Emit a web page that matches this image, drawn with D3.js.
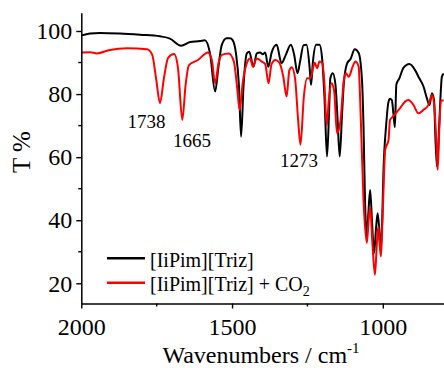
<!DOCTYPE html>
<html>
<head>
<meta charset="utf-8">
<script src="https://cdn.jsdelivr.net/npm/d3@7"></script>
<style>
  html, body { margin: 0; padding: 0; background: #fff; }
  svg { display: block; font-family: "Liberation Serif", "Times New Roman", serif; }
</style>
</head>
<body>
<svg id="chart" width="444" height="368"></svg>
<script>
// ---- data ----
var blackWn = [2000, 1971, 1938, 1872, 1805, 1739, 1706, 1669, 1639, 1606, 1590, 1573, 1556, 1545, 1534,
  1518, 1507, 1498, 1487, 1477, 1470, 1462, 1451, 1443, 1429, 1418, 1407, 1398, 1390, 1380, 1368, 1352,
  1336, 1321, 1305, 1294, 1283, 1274, 1263, 1253, 1243, 1238, 1232, 1221, 1210, 1201, 1193, 1185, 1178,
  1174, 1166, 1157, 1150, 1143, 1135, 1129, 1118, 1107, 1093, 1080, 1069, 1064, 1059, 1053, 1048, 1042,
  1036, 1029, 1022, 1017, 1011, 1007, 1002, 998, 989, 981, 976, 970, 965, 960, 955, 945, 932, 912, 893,
  879, 865, 854, 845, 837, 830, 825, 820, 813, 804, 798];
var blackT = [98.6, 99.2, 99.4, 99.2, 98.8, 98.3, 97.6, 95.3, 96.5, 96.8, 97.1, 92.9, 80.8, 88.7, 95.6,
  97.7, 97.7, 97.1, 92.9, 82.4, 66.5, 82.4, 92.9, 93.4, 88.7, 92.9, 93.2, 92.6, 93.2, 88.7, 93.4, 95.6,
  89.8, 92.6, 95.6, 92.5, 86.6, 90.5, 95.5, 95.6, 88.7, 82.9, 90, 95.6, 95.6, 91, 78, 60.2, 75,
  85, 86.6, 83, 72, 60.2, 74, 83.7, 89.8, 91.1, 94.2, 93, 84.4, 70, 46.4, 34.8, 42, 49.6,
  40, 29.6, 38, 42.2, 36, 30, 40, 54.9, 70, 77.6, 78.5, 78.1, 74, 69.5, 83, 85, 88.2, 89.5, 87.6,
  85, 82.4, 78.7, 76.5, 80.3, 78, 65, 57, 70, 85.5, 86.5];

var redWn = [2000, 1971, 1948, 1905, 1848, 1782, 1765, 1752, 1739, 1726, 1712, 1692, 1679, 1665, 1654,
  1643, 1613, 1580, 1567, 1556, 1545, 1534, 1511, 1494, 1483, 1475, 1464, 1451, 1440, 1431, 1418, 1401,
  1390, 1379, 1369, 1357, 1343, 1330, 1319, 1310, 1302, 1291, 1281, 1273, 1262, 1251, 1240, 1226, 1218,
  1210, 1201, 1194, 1186, 1179, 1170, 1161, 1152, 1141, 1129, 1122, 1113, 1100, 1091, 1080, 1075, 1064,
  1053, 1047, 1042, 1034, 1026, 1020, 1015, 1010, 1006, 1001, 992, 981, 976, 965, 953, 943, 926, 915,
  898, 882, 865, 849, 837, 830, 821, 818, 813, 807, 798];
var redT = [93.2, 93.3, 92.9, 94, 94.5, 94.2, 92.5, 85, 77.1, 85, 91.5, 92.7, 88, 71.8, 83,
  89.2, 90.8, 93.2, 90.8, 83.4, 89.8, 92.4, 92.9, 90.3, 82, 75, 84, 89.8, 91.3, 88.7, 91.3, 90.3,
  89.5, 83.4, 89.5, 90.8, 90, 85.5, 79.2, 87.5, 88.5, 85, 72, 63.9, 79, 85, 85, 89.9, 88.2,
  90.3, 89.9, 84, 70, 78.1, 83.4, 80.7, 67.6, 71, 84.5, 86.6, 85.5, 88.7, 90.3, 88.7, 78, 46.4,
  32.8, 40, 44.3, 32, 22.7, 32, 38, 32, 28.5, 40, 62.3, 65.5, 71.8, 73, 74.4, 75.5, 77.6, 78.1,
  76.5, 73.9, 75, 76.5, 79.7, 77, 62, 56, 68, 78, 78];

var seriesNames = ["[IiPim][Triz]", "[IiPim][Triz] + CO"];
var seriesColors = ["#000000", "#ff0000"];

var xTicksMajor = [2000, 1500, 1000];
var xTicksMinor = [1750, 1250];
var yTicksMajor = [20, 40, 60, 80, 100];
var yTicksMinor = [30, 50, 70, 90];

// peak annotations: text, and the (wavenumber, T) spot where each label sits
var peakLabels = ["1738", "1665", "1273"];
var peakLabelWn = [1784, 1633, 1278];
var peakLabelT = [69.2, 63.3, 57.0];

// ---- frame ----
var svg = d3.select("#chart");
var x = d3.scaleLinear().domain([2000, 797]).range([81.3, 444]);
var y = d3.scaleLinear().domain([13.6, 105.8]).range([303.5, 12.7]);
var serif = "Liberation Serif";

// ---- spectra ----
var line = d3.line()
  .x(function (d) { return x(d[0]); })
  .y(function (d) { return y(d[1]); })
  .curve(d3.curveMonotoneX);

var series = [
  { pts: d3.zip(blackWn, blackT), color: seriesColors[0] },
  { pts: d3.zip(redWn, redT), color: seriesColors[1] }
];
series.forEach(function (s) {
  svg.append("path")
    .datum(s.pts)
    .attr("fill", "none")
    .attr("stroke", s.color)
    .attr("stroke-width", 2)
    .attr("stroke-linejoin", "round")
    .attr("d", line);
});

// ---- axes ----
var xAxis = svg.append("g")
  .attr("transform", "translate(0," + y.range()[0] + ")")
  .call(d3.axisBottom(x).tickValues(xTicksMajor).tickFormat(d3.format("d"))
    .tickSize(5).tickPadding(9).tickSizeOuter(0));
xAxis.append("g").selectAll("line").data(xTicksMinor).enter().append("line")
  .attr("x1", function (d) { return x(d); }).attr("x2", function (d) { return x(d); })
  .attr("y1", 0).attr("y2", 3).attr("stroke", "#000").attr("stroke-width", 1.4);

var yAxis = svg.append("g")
  .attr("transform", "translate(" + x.range()[0] + ",0)")
  .call(d3.axisLeft(y).tickValues(yTicksMajor).tickFormat(d3.format("d"))
    .tickSize(5).tickPadding(4).tickSizeOuter(0));
yAxis.append("g").selectAll("line").data(yTicksMinor).enter().append("line")
  .attr("y1", function (d) { return y(d); }).attr("y2", function (d) { return y(d); })
  .attr("x1", 0).attr("x2", -3).attr("stroke", "#000").attr("stroke-width", 1.4);

[xAxis, yAxis].forEach(function (a) {
  a.attr("font-family", serif);
  a.select(".domain").attr("stroke-width", 1.5);
  a.selectAll(".tick line").attr("stroke-width", 1.4);
  a.selectAll(".tick text").attr("font-size", 24).attr("fill", "#000");
});

// axis titles
var xt = svg.append("text")
  .attr("x", 261).attr("y", 363)
  .attr("text-anchor", "middle")
  .attr("font-family", serif)
  .attr("font-size", 24);
xt.append("tspan").text("Wavenumbers / cm");
xt.append("tspan").attr("font-size", 15).attr("dy", -10).text("-1");

svg.append("text")
  .attr("transform", "translate(30,152) rotate(-90)")
  .attr("text-anchor", "middle")
  .attr("font-family", serif)
  .attr("font-size", 25)
  .text("T %");

// ---- peak annotations ----
peakLabels.forEach(function (t, i) {
  svg.append("text")
    .attr("x", x(peakLabelWn[i])).attr("y", y(peakLabelT[i]))
    .attr("text-anchor", "middle")
    .attr("font-family", serif)
    .attr("font-size", 19)
    .text(t);
});

// ---- legend ----
var leg = svg.append("g").attr("font-family", serif);
seriesNames.forEach(function (name, i) {
  var ly = 258.3 + i * 24.4;
  leg.append("line")
    .attr("x1", 107).attr("x2", 145).attr("y1", ly).attr("y2", ly)
    .attr("stroke", seriesColors[i]).attr("stroke-width", 2.5);
  var tx = leg.append("text")
    .attr("x", 150).attr("y", ly + 8.5)
    .attr("font-size", 20);
  tx.append("tspan").text(name);
  if (i === 1) tx.append("tspan").attr("font-size", 14).attr("dy", 5).text("2");
});
</script>
</body>
</html>
